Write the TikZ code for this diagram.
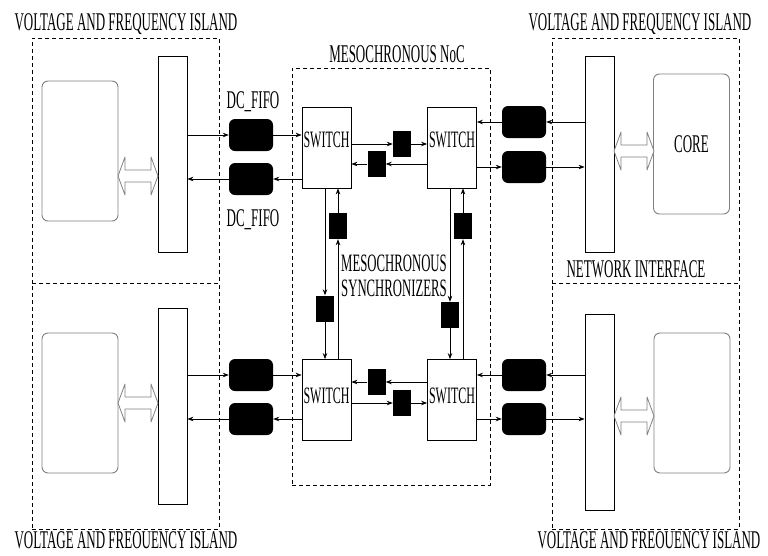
\documentclass[tikz,border=0pt]{standalone}
\usepackage{fontspec}
\usepackage{tikz}
\usetikzlibrary{arrows.meta, calc}
\newfontfamily\narrowfont{Liberation Serif}[FakeStretch=0.51]
\tikzset{
    x=1pt, y=-1pt,
    every node/.style={inner sep=0pt},
    lbl/.style={font=\narrowfont\fontsize{25.5}{27}\selectfont, text height=16.5pt, text depth=0pt},
    island/.style={draw, dash pattern=on 4pt off 3pt, line width=0.75pt, minimum width=187pt},
    corebox/.style={draw=gray, rounded corners=6pt, line width=0.9pt, minimum width=76pt, minimum height=140pt, lbl},
    nibox/.style={draw, line width=0.8pt, minimum width=29pt, minimum height=196pt},
    fifo/.style={fill=black, rounded corners=6pt, minimum width=44pt, minimum height=32pt},
    switchbox/.style={draw, line width=0.8pt, fill=white, minimum width=49pt, minimum height=81pt, lbl, font=\narrowfont\fontsize{23.5}{25}\selectfont},
    sync/.style={fill=black, minimum width=18pt, minimum height=26pt},
    link/.style={-{Stealth[length=6pt, width=4.5pt]}, line width=0.75pt},
    dblarrow/.pic={
        \draw [gray, fill=white, line width=0.8pt, line join=round]
            (-20,0) -- (-13,-19) -- (-13,-6) -- (13,-6) -- (13,-19) -- (20,0)
            -- (13,19) -- (13,6) -- (-13,6) -- (-13,19) -- cycle;
    }
}

\begin{document}
\begin{tikzpicture}

    \useasboundingbox (0,0) rectangle (768,555);

    % islands and NoC
    \node (isTL) [island, minimum height=245pt] at (125.5,160.5) {};
    \node (isTR) [island, minimum height=245pt] at (645.5,160.5) {};
    \node (isBL) [island, minimum height=246pt] at (125.5,406) {};
    \node (isBR) [island, minimum height=246pt] at (645.5,406) {};
    \node (noc) [island, minimum width=198pt, minimum height=417pt] at (391,276.5) {};

    \node (tTL) [lbl] at (126,22) {VOLTAGE AND FREQUENCY ISLAND};
    \node (tTR) [lbl] at (640,22) {VOLTAGE AND FREQUENCY ISLAND};
    \node (tBL) [lbl] at (126,540) {VOLTAGE AND FREOUENCY ISLAND};
    \node (tBR) [lbl] at (649,540) {VOLTAGE AND FREOUENCY ISLAND};
    \node (tNoC) [lbl] at (397,54) {MESOCHRONOUS NoC};
    \node (tNI) [lbl] at (636,269) {NETWORK INTERFACE};
    \node (tFifo1) [lbl] at (253,100) {DC\_FIFO};
    \node (tFifo2) [lbl] at (253,218) {DC\_FIFO};
    \node (tSync) [font=\narrowfont\fontsize{25}{25}\selectfont, align=left] at (394,276) {MESOCHRONOUS\\SYNCHRONIZERS};

    % cores and network interfaces
    \node (coreTL) [corebox] at (80,151) {};
    \node (coreTR) [corebox] at (691.5,144) {CORE};
    \node (coreBL) [corebox] at (80,403) {};
    \node (coreBR) [corebox] at (692,403) {};

    \node (niTL) [nibox] at (172.5,154) {};
    \node (niTR) [nibox] at (599.5,154) {};
    \node (niBL) [nibox] at (172.5,406.5) {};
    \node (niBR) [nibox] at (599.5,412.5) {};

    \pic (daTL) at (138,176) {dblarrow};
    \pic (daTR) at (634,151) {dblarrow};
    \pic (daBL) at (138,403) {dblarrow};
    \pic (daBR) at (634,416) {dblarrow};

    % dual clock fifos
    \node (fTL1) [fifo] at (251,135) {};
    \node (fTL2) [fifo] at (251,179) {};
    \node (fTR1) [fifo] at (524,122) {};
    \node (fTR2) [fifo] at (524,167) {};
    \node (fBL1) [fifo] at (251,375) {};
    \node (fBL2) [fifo] at (251,419) {};
    \node (fBR1) [fifo] at (524,375) {};
    \node (fBR2) [fifo] at (524,419) {};

    % switches
    \node (swTL) [switchbox, text depth=16pt] at (326.5,147.5) {SWITCH};
    \node (swTR) [switchbox, text depth=16pt] at (452,147.5) {SWITCH};
    \node (swBL) [switchbox, text height=7pt] at (326.5,400) {SWITCH};
    \node (swBR) [switchbox, text height=7pt] at (452,400) {SWITCH};

    % mesochronous synchronizers
    \node (sH1) [sync] at (402,144) {};
    \node (sH2) [sync] at (376.5,164) {};
    \node (sH3) [sync] at (376.5,382) {};
    \node (sH4) [sync] at (402,403) {};
    \node (sVL1) [sync] at (325,308.5) {};
    \node (sVL2) [sync] at (338,226) {};
    \node (sVR1) [sync] at (450,315) {};
    \node (sVR2) [sync] at (463,226) {};

    % island links
    \draw [link] (fTL1.west -| niTL.east) -- (fTL1.west);
    \draw [link] (fTL1.east) -- (fTL1.east -| swTL.west);
    \draw [link] (fTL2.east -| swTL.west) -- (fTL2.east);
    \draw [link] (fTL2.west) -- (fTL2.west -| niTL.east);

    \draw [link] (fBL1.west -| niBL.east) -- (fBL1.west);
    \draw [link] (fBL1.east) -- (fBL1.east -| swBL.west);
    \draw [link] (fBL2.east -| swBL.west) -- (fBL2.east);
    \draw [link] (fBL2.west) -- (fBL2.west -| niBL.east);

    \draw [link] (fTR1.east -| niTR.west) -- (fTR1.east);
    \draw [link] (fTR1.west) -- (fTR1.west -| swTR.east);
    \draw [link] (fTR2.west -| swTR.east) -- (fTR2.west);
    \draw [link] (fTR2.east) -- (fTR2.east -| niTR.west);

    \draw [link] (fBR1.east -| niBR.west) -- (fBR1.east);
    \draw [link] (fBR1.west) -- (fBR1.west -| swBR.east);
    \draw [link] (fBR2.west -| swBR.east) -- (fBR2.west);
    \draw [link] (fBR2.east) -- (fBR2.east -| niBR.west);

    % switch to switch links
    \draw [link] (sH1.west -| swTL.east) -- (sH1.west);
    \draw [link] (sH1.east) -- (sH1.east -| swTR.west);
    \draw [link] (sH2.east -| swTR.west) -- (sH2.east);
    \draw [link] (sH2.west) -- (sH2.west -| swTL.east);

    \draw [link] (sH3.east -| swBR.west) -- (sH3.east);
    \draw [link] (sH3.west) -- (sH3.west -| swBL.east);
    \draw [link] (sH4.west -| swBL.east) -- (sH4.west);
    \draw [link] (sH4.east) -- (sH4.east -| swBR.west);

    \draw [link] (sVL1.north |- swTL.south) -- (sVL1.north);
    \draw [link] (sVL1.south) -- (sVL1.south |- swBL.north);
    \draw [link] (sVL2.south |- swBL.north) -- (sVL2.south);
    \draw [link] (sVL2.north) -- (sVL2.north |- swTL.south);

    \draw [link] (sVR1.north |- swTR.south) -- (sVR1.north);
    \draw [link] (sVR1.south) -- (sVR1.south |- swBR.north);
    \draw [link] (sVR2.south |- swBR.north) -- (sVR2.south);
    \draw [link] (sVR2.north) -- (sVR2.north |- swTR.south);

\end{tikzpicture}
\end{document}
